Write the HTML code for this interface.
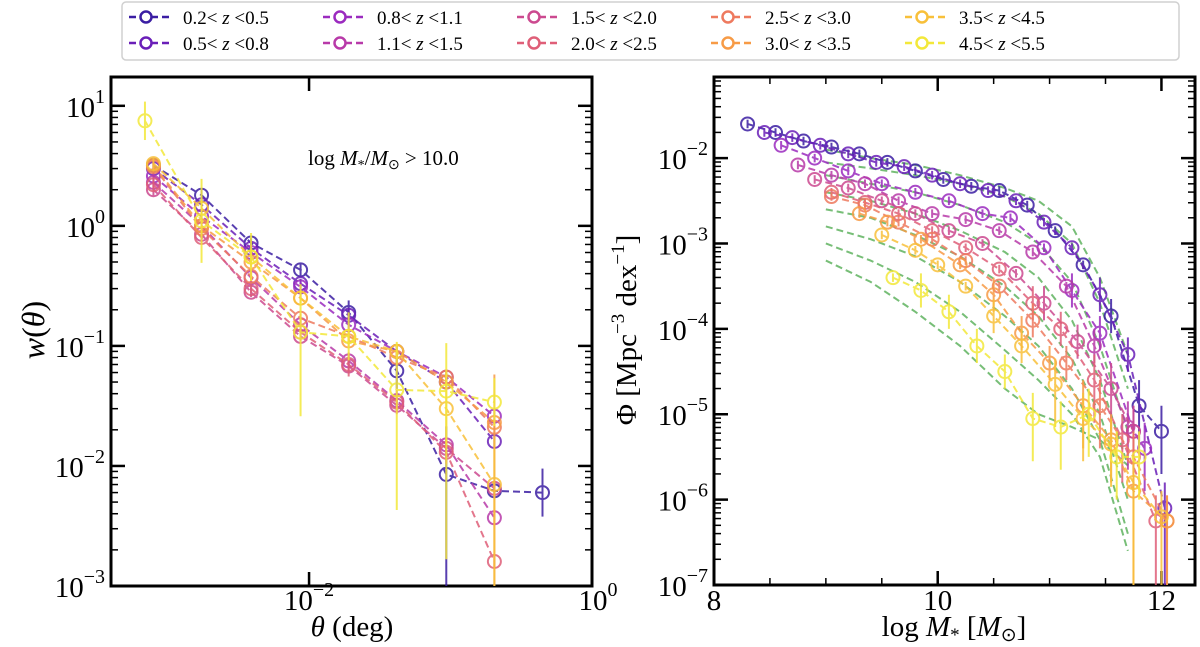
<!DOCTYPE html>
<html><head><meta charset="utf-8"><style>
html,body{margin:0;padding:0;background:#fff;overflow:hidden;width:1200px;height:647px;}
svg{display:block;}
svg text{font-family:"Liberation Serif",serif;fill:#000;}
</style></head><body>
<svg id="fig" width="1200" height="647" xmlns="http://www.w3.org/2000/svg">
<rect x="0" y="0" width="1200" height="647" fill="#fff"/>
<g id="legend"></g>
<g id="left"></g>
<g id="right"></g>
</svg>
<script>
const binLabels=["0.2","0.5","0.8","1.1","1.5","2.0","2.5","3.0","3.5","4.5","5.5"];
const colors=["#3b1ea3","#6a1fb8","#9b2bbf","#b83aa9","#cc4a90","#df5f78","#ee7a5f","#f79b46","#f8c03a","#f3e83a"];
// Left panel: log10 theta and w(theta)
const thetaLog=[-3.10,-2.76,-2.41,-2.06,-1.72,-1.38,-1.03,-0.69,-0.35];
const yellowFirstTheta=-3.16;
const wVals=[
 [3.2,1.8,0.72,0.43,0.19,0.062,0.0085,0.0062,0.006],
 [3.0,1.5,0.65,0.33,0.18,0.09,0.05,0.016],
 [2.6,1.2,0.6,0.31,0.15,0.09,0.055,0.026],
 [2.3,1.0,0.37,0.15,0.075,0.035,0.015,0.0037],
 [2.0,0.85,0.28,0.12,0.068,0.032,0.014,0.0065],
 [2.2,0.8,0.3,0.13,0.07,0.034,0.013,0.0016],
 [3.1,0.95,0.38,0.17,0.12,0.08,0.055,0.021],
 [3.2,1.0,0.5,0.25,0.11,0.09,0.05,0.023],
 [3.3,1.4,0.55,0.25,0.12,0.09,0.03,0.007],
 [7.5,1.1,0.55,0.13,0.12,0.043,0.042,0.034]
];
const wErrLog=[
 [0.06,0.05,0.04,0.06,0.1,0.15,2,0.05,0.2],
 [0.06,0.05,0.04,0.04,0.06,0.05,0.05,0.05],
 [0.06,0.05,0.04,0.04,0.05,0.05,0.05,0.05],
 [0.06,0.05,0.04,0.04,0.05,0.05,0.05,0.05],
 [0.06,0.05,0.04,0.04,0.05,0.05,0.05,0.05],
 [0.06,0.05,0.04,0.04,0.1,0.1,0.1,0.05],
 [0.06,0.05,0.04,0.04,0.05,0.05,0.05,0.05],
 [0.06,0.05,0.04,0.04,0.05,0.05,0.05,2],
 [0.06,0.08,0.06,0.04,0.05,0.05,0.3,2],
 [0.16,0.35,0.2,0.7,0.2,1.0,1.4,0.2]
];
const leftXTicks=[-2,0];
const leftYTicks=[1,0,-1,-2,-3];
// Right panel: log stellar mass and log Phi
const massVals=[
 [8.3,8.55,8.8,9.05,9.3,9.55,9.8,10.05,10.3,10.55,10.8,11.05,11.3,11.55,11.8,12.0],
 [8.45,8.7,8.95,9.2,9.45,9.7,9.95,10.2,10.45,10.7,10.95,11.2,11.45,11.7,12.03],
 [8.6,8.9,9.2,9.5,9.8,10.1,10.4,10.65,10.95,11.2,11.45,11.75,11.85],
 [8.75,9.05,9.35,9.65,9.95,10.25,10.55,10.85,11.15,11.4,11.7],
 [8.9,9.2,9.5,9.8,10.1,10.4,10.7,10.95,11.25,11.55,11.75],
 [9.05,9.35,9.65,9.95,10.25,10.55,10.85,11.1,11.4,11.65,11.95],
 [9.05,9.35,9.65,9.95,10.25,10.55,10.85,11.15,11.45,11.75,12.05],
 [9.3,9.55,9.85,10.2,10.5,10.75,11.0,11.3,11.55,11.75,12.05],
 [9.5,9.8,10.0,10.25,10.5,10.75,11.05,11.3,11.55,11.75,12.0],
 [9.6,9.85,10.1,10.35,10.6,10.85,11.1,11.35,11.6,11.8]
];
const phiLog=[
 [-1.60,-1.70,-1.80,-1.87,-1.95,-2.05,-2.15,-2.25,-2.33,-2.38,-2.55,-2.85,-3.25,-3.85,-4.9,-5.2],
 [-1.70,-1.76,-1.85,-1.95,-2.05,-2.1,-2.2,-2.3,-2.38,-2.5,-2.75,-3.05,-3.6,-4.3,-6.1],
 [-1.85,-2.0,-2.15,-2.3,-2.4,-2.5,-2.65,-2.7,-3.05,-3.55,-4.05,-5.2,-5.4],
 [-2.08,-2.2,-2.3,-2.5,-2.65,-2.72,-2.85,-3.1,-3.5,-4.2,-5.15],
 [-2.25,-2.35,-2.5,-2.65,-2.85,-3.0,-3.35,-3.7,-4.15,-4.7,-5.2],
 [-2.4,-2.52,-2.65,-2.85,-3.05,-3.3,-3.7,-4.0,-4.6,-5.3,-6.25],
 [-2.45,-2.55,-2.75,-2.95,-3.2,-3.5,-3.9,-4.4,-4.9,-5.5,-6.25],
 [-2.65,-2.75,-2.95,-3.25,-3.6,-4.05,-4.4,-4.9,-5.3,-5.9,-6.25],
 [-2.9,-3.08,-3.25,-3.5,-3.85,-4.2,-4.65,-5.05,-5.35,-5.8,-6.2],
 [-3.4,-3.55,-3.8,-4.2,-4.5,-5.05,-5.15,-5.0,-5.5,-5.5]
];
const greenMass=[9.0,9.4,9.8,10.2,10.6,10.9,11.2,11.45,11.7];
const greenPhi=[
 [-1.9,-2.0,-2.08,-2.2,-2.35,-2.5,-2.8,-3.4,-4.3],
 [-2.05,-2.12,-2.2,-2.3,-2.45,-2.65,-3.0,-3.7,-4.7],
 [-2.2,-2.3,-2.4,-2.55,-2.75,-3.0,-3.45,-4.2,-5.2],
 [-2.4,-2.5,-2.65,-2.85,-3.1,-3.4,-3.9,-4.6,-5.6],
 [-2.6,-2.7,-2.9,-3.15,-3.5,-3.85,-4.35,-5.0,-6.0],
 [-2.8,-2.95,-3.15,-3.45,-3.85,-4.2,-4.7,-5.3,-6.4],
 [-3.0,-3.2,-3.45,-3.8,-4.25,-4.6,-5.0,-5.5,-6.6],
 [-3.2,-3.45,-3.8,-4.2,-4.7,-5.0,-5.15,-5.3,-5.6]
];
const rightXTicks=[8,10,12];
const rightYTicks=[-2,-3,-4,-5,-6,-7];

const NS="http://www.w3.org/2000/svg";
function mk(parent,tag,attrs){const e=document.createElementNS(NS,tag);for(const k in attrs)e.setAttribute(k,attrs[k]);parent.appendChild(e);return e;}

const L={x0:111,x1:592,y0:77,y1:586,xmin:-3.4,xmax:0,ymin:-3,ymax:1.24};
const R={x0:714,x1:1195,y0:77,y1:585,xmin:8,xmax:12.3,ymin:-7,ymax:-1.05};
function sx(A,v){return A.x0+(v-A.xmin)/(A.xmax-A.xmin)*(A.x1-A.x0);}
function sy(A,v){return A.y1-(v-A.ymin)/(A.ymax-A.ymin)*(A.y1-A.y0);}
function cy(A,y){return Math.max(A.y0,Math.min(A.y1,y));}
function clipFor(g,A,id){const d=mk(g,'defs',{});const c=mk(d,'clipPath',{id:id});mk(c,'rect',{x:A.x0,y:A.y0,width:A.x1-A.x0,height:A.y1-A.y0});}

function frameAndTicks(g,A,xMajors,yMajors,xMinorVals,fmtX){
  for(let d=Math.floor(A.ymin);d<=Math.ceil(A.ymax);d++){
    for(let m=1;m<10;m++){
      const v=d+Math.log10(m); if(v<A.ymin-1e-9||v>A.ymax+1e-9) continue;
      const y=sy(A,v); const len=m===1?14:7; const w=m===1?2.5:1.5;
      const t1=mk(g,'line',{x1:A.x0,x2:A.x0+len,y1:y,y2:y,stroke:'#000','stroke-width':w});
      
      mk(g,'line',{x1:A.x1,x2:A.x1-len,y1:y,y2:y,stroke:'#000','stroke-width':w});
    }
  }
  yMajors.forEach(v=>{
    const t=mk(g,'text',{x:A.x0-6,y:sy(A,v)+11,'text-anchor':'end','font-size':29});
    
    t.appendChild(document.createTextNode('10'));
    const s=mk(t,'tspan',{dy:-14,'font-size':20});s.textContent=v<0?'\u2212'+Math.abs(v):String(v);
  });
  xMinorVals.forEach(([v,maj])=>{
    const x=sx(A,v);const len=maj?14:7;const w=maj?2.5:1.5;
    mk(g,'line',{x1:x,x2:x,y1:A.y1,y2:A.y1-len,stroke:'#000','stroke-width':w});
    mk(g,'line',{x1:x,x2:x,y1:A.y0,y2:A.y0+len,stroke:'#000','stroke-width':w});
  });
  xMajors.forEach(v=>fmtX(v));
  const f=mk(g,'rect',{x:A.x0,y:A.y0,width:A.x1-A.x0,height:A.y1-A.y0,fill:'none',stroke:'#000','stroke-width':3});
  
}

// ---------- Left ----------
const gl=document.getElementById('left');
clipFor(gl,L,'cl');
const lminor=[[-2,true],[0,true]];
frameAndTicks(gl,L,leftXTicks,leftYTicks,lminor,v=>{
  const t=mk(gl,'text',{x:sx(L,v)+(v===0?6:0),y:610,'text-anchor':'middle','font-size':29});
  
  t.appendChild(document.createTextNode('10'));
  const s=mk(t,'tspan',{dy:-14,'font-size':20});s.textContent=v<0?'\u2212'+Math.abs(v):String(v);
});
const gld=mk(gl,'g',{'clip-path':'url(#cl)'});
wVals.forEach((ser,i)=>{
  const xs=ser.map((v,j)=> (i===9&&j===0)?yellowFirstTheta:thetaLog[j]);
  const g=mk(gld,'g',{opacity:0.85});
  
  const pts=ser.map((v,j)=>sx(L,xs[j])+','+sy(L,Math.log10(v))).join(' ');
  mk(g,'polyline',{points:pts,fill:'none',stroke:colors[i],'stroke-width':2,'stroke-dasharray':'7,4'});
  ser.forEach((v,j)=>{
    const lv=Math.log10(v),e=wErrLog[i][j]||0.05,x=sx(L,xs[j]);
    mk(g,'line',{x1:x,x2:x,y1:cy(L,sy(L,lv-e)),y2:cy(L,sy(L,lv+Math.min(e,0.4))),stroke:colors[i],'stroke-width':2});
    const c=mk(g,'circle',{cx:x,cy:sy(L,lv),r:6.5,fill:'none',stroke:colors[i],'stroke-width':2});
    
  });
});
const ann=mk(gl,'text',{x:308,y:165,'font-size':21});

ann.innerHTML='log <tspan font-style="italic">M</tspan><tspan font-size="14" dy="4">*</tspan><tspan dy="-4">/</tspan><tspan font-style="italic">M</tspan><tspan font-size="14" dy="4">\u2299</tspan><tspan dy="-4"> &gt; 10.0</tspan>';
const lxt=mk(gl,'text',{x:352,y:636,'text-anchor':'middle','font-size':29});

lxt.innerHTML='<tspan font-style="italic">θ</tspan> (deg)';
const lyt=mk(gl,'text',{x:0,y:0,'text-anchor':'middle','font-size':32,transform:'translate(44,330) rotate(-90)'});

lyt.innerHTML='<tspan font-style="italic">w</tspan>(<tspan font-style="italic">θ</tspan>)';

// ---------- Right ----------
const gr=document.getElementById('right');
clipFor(gr,R,'cr');
const rminor=[];
for(let k=0;k<=8;k++){const v=8+k*0.5;rminor.push([v,k%4===0]);}
frameAndTicks(gr,R,rightXTicks,rightYTicks,rminor,v=>{
  const t=mk(gr,'text',{x:sx(R,v),y:610,'text-anchor':'middle','font-size':29});
  
  t.textContent=String(v);
});
const grd=mk(gr,'g',{'clip-path':'url(#cr)'});
greenPhi.forEach((ser,i)=>{
  const pts=ser.map((v,j)=>sx(R,greenMass[j])+','+sy(R,v)).join(' ');
  const p=mk(grd,'polyline',{points:pts,fill:'none',stroke:'#4aa84a','stroke-width':2,'stroke-dasharray':'7,4',opacity:0.75});
  
});
phiLog.forEach((ser,i)=>{
  const g=mk(grd,'g',{opacity:0.85});
  
  const pts=ser.map((v,j)=>sx(R,massVals[i][j])+','+sy(R,v)).join(' ');
  mk(g,'polyline',{points:pts,fill:'none',stroke:colors[i],'stroke-width':2,'stroke-dasharray':'7,4'});
  ser.forEach((v,j)=>{
    const x=sx(R,massVals[i][j]);
    const e=v<-4.5?(v<-5.5?3:0.5):(v<-3.5?0.2:0.05);
    mk(g,'line',{x1:x,x2:x,y1:cy(R,sy(R,v-e)),y2:cy(R,sy(R,v+Math.min(e,0.3))),stroke:colors[i],'stroke-width':2});
    const c=mk(g,'circle',{cx:x,cy:sy(R,v),r:6.5,fill:'none',stroke:colors[i],'stroke-width':2});
    
  });
});
const rxt=mk(gr,'text',{x:954,y:636,'text-anchor':'middle','font-size':29});

rxt.innerHTML='log <tspan font-style="italic">M</tspan><tspan font-size="19" dy="5">*</tspan><tspan dy="-5"> [</tspan><tspan font-style="italic">M</tspan><tspan font-size="19" dy="5">\u2299</tspan><tspan dy="-5">]</tspan>';
const ryt=mk(gr,'text',{x:0,y:0,'text-anchor':'middle','font-size':29,transform:'translate(636,330) rotate(-90)'});

ryt.innerHTML='Φ [Mpc<tspan dy="-12" font-size="19">\u22123</tspan><tspan dy="12"> dex</tspan><tspan dy="-12" font-size="19">\u22121</tspan><tspan dy="12">]</tspan>';

// ---------- Legend ----------
const lg=document.getElementById('legend');
const box=mk(lg,'rect',{x:122,y:2,width:1057,height:58,rx:4,fill:'#fff',stroke:'#d0d0d0','stroke-width':1.5});

colors.forEach((c,i)=>{
  const col=Math.floor(i/2),row=i%2;
  const x0=129+col*194,y=17+row*26;
  const g=mk(lg,'g',{});
  
  mk(g,'line',{x1:x0,x2:x0+40,y1:y,y2:y,stroke:c,'stroke-width':2.5,'stroke-dasharray':'7,4'});
  mk(g,'circle',{cx:x0+17,cy:y,r:5.5,fill:'#fff',stroke:c,'stroke-width':2.5});
  const t=mk(g,'text',{x:x0+54,y:y+7,'font-size':19});
  t.innerHTML=binLabels[i]+'&lt; <tspan font-style="italic">z</tspan> &lt;'+binLabels[i+1];
});
</script>
</body></html>
